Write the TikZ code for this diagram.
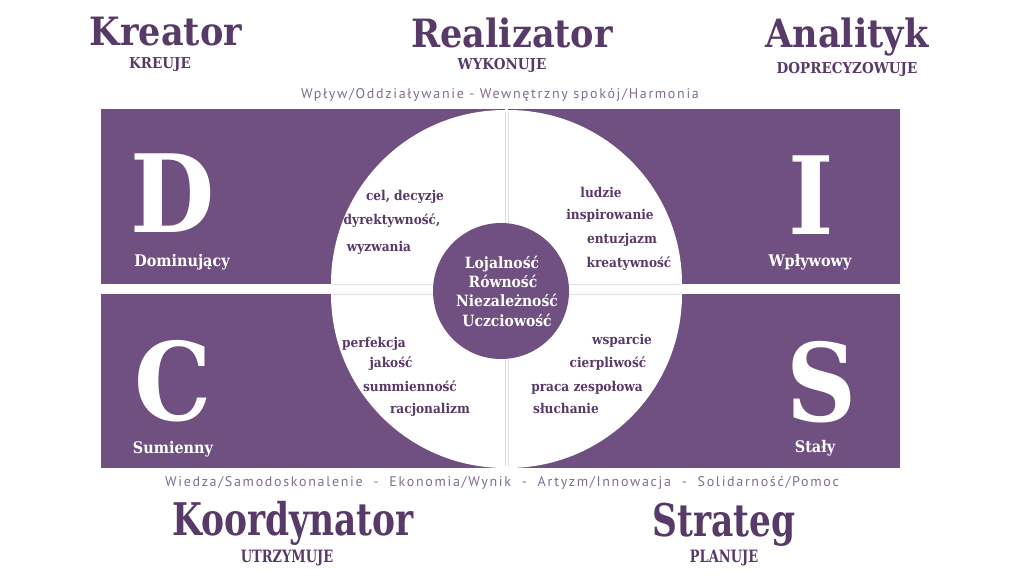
\documentclass[tikz,border=0pt]{standalone}
\usepackage{fontspec}
\setmainfont{DejaVu Serif Condensed}
\newfontfamily\condser{DejaVu Serif Condensed}[FakeStretch=0.85]
\newfontfamily\lite{PT Sans}[LetterSpace=12]
\definecolor{pur}{RGB}{112,80,128}
\definecolor{ttl}{RGB}{88,58,104}
\definecolor{lgt}{RGB}{128,110,140}
\begin{document}
\begin{tikzpicture}[x=1pt,y=-1pt,
  title/.style={font=\bfseries\fontsize{39}{39}\selectfont, text=ttl, inner sep=0, anchor=base},
  ctitle/.style={font=\condser\bfseries\fontsize{45}{45}\selectfont, text=ttl, inner sep=0, anchor=base},
  sub/.style={font=\bfseries\fontsize{15}{15}\selectfont, text=ttl, inner sep=0, anchor=base},
  csub/.style={font=\condser\bfseries\fontsize{17}{17}\selectfont, text=ttl, inner sep=0, anchor=base},
  big/.style={font=\bfseries\fontsize{108}{108}\selectfont, text=white, inner sep=0, anchor=base, text depth=0pt},
  lab/.style={font=\bfseries\fontsize{16}{16}\selectfont, text=white, inner sep=0, anchor=base},
  word/.style={font=\bfseries\fontsize{13.5}{13.5}\selectfont, text=ttl, inner sep=0, anchor=base},
  core/.style={font=\bfseries\fontsize{15.5}{15.5}\selectfont, text=white, inner sep=0, anchor=base},
  band/.style={font=\lite\fontsize{14}{14}\selectfont, text=lgt, inner sep=0, anchor=base},
  sep/.style={draw=black!12, line width=0.6pt}]
\useasboundingbox (0,0) rectangle (1024,576);
% quadrants
\fill[pur] (101,109) rectangle (505,284);
\fill[pur] (508,109) rectangle (900,284);
\fill[pur] (101,294) rectangle (505,468);
\fill[pur] (508,294) rectangle (900,468);
\begin{scope}
  \clip (101,109) rectangle (505,284);
  \fill[white] (505,284) circle[radius=174pt];
\end{scope}
\begin{scope}
  \clip (508,109) rectangle (900,284);
  \fill[white] (508,284) circle[radius=174pt];
\end{scope}
\begin{scope}
  \clip (101,294) rectangle (505,468);
  \fill[white] (505,294) circle[radius=174pt];
\end{scope}
\begin{scope}
  \clip (508,294) rectangle (900,468);
  \fill[white] (508,294) circle[radius=174pt];
\end{scope}
\draw[sep] (505,112) -- (505,466);
\draw[sep] (508,112) -- (508,466);
\draw[sep] (333,284) -- (680,284);
\draw[sep] (333,294) -- (680,294);
\node[circle, fill=pur, minimum size=136pt, inner sep=0] (corecircle) at (501,291) {};
% titles
\node[title] (kreator) at (166,45) {Kreator};
\node[sub] (kreuje) at (160,68) {KREUJE};
\node[title] (realizator) at (512,47) {Realizator};
\node[sub] (wykonuje) at (502,69) {WYKONUJE};
\node[title] (analityk) at (847,47) {Analityk};
\node[sub] (doprec) at (847,73) {DOPRECYZOWUJE};
\node[band] (topband) at (500,98) {Wpływ/Oddziaływanie - Wewnętrzny spokój/Harmonia};
\node[band] (botband) at (502,486) {Wiedza/Samodoskonalenie~~-~~Ekonomia/Wynik~~-~~Artyzm/Innowacja~~-~~Solidarność/Pomoc};
\node[ctitle] (koord) at (293,535) {Koordynator};
\node[csub] (utrz) at (287,562) {UTRZYMUJE};
\node[ctitle] (strateg) at (724,536) {Strateg};
\node[csub] (plan) at (724,562) {PLANUJE};
% letters
\node[big] (D) at (173,232) {D};
\node[lab] (dom) at (182,266) {Dominujący};
\node[big] (I) at (811,234) {I};
\node[lab] (wpl) at (810,266) {Wpływowy};
\node[big] (C) at (173,420) {C};
\node[lab] (sum) at (173,453) {Sumienny};
\node[big] (S) at (822,421) {S};
\node[lab] (sta) at (815,452) {Stały};
% words
\node[word] (w1) at (405,200) {cel, decyzje};
\node[word] (w2) at (392,224) {dyrektywność,};
\node[word] (w3) at (379,251) {wyzwania};
\node[word] (w4) at (601,197) {ludzie};
\node[word] (w5) at (610,219) {inspirowanie};
\node[word] (w6) at (622,243) {entuzjazm};
\node[word] (w7) at (629,267) {kreatywność};
\node[word] (w8) at (374,347) {perfekcja};
\node[word] (w9) at (391,367) {jakość};
\node[word] (w10) at (410,391) {summienność};
\node[word] (w11) at (430,413) {racjonalizm};
\node[word] (w12) at (622,344) {wsparcie};
\node[word] (w13) at (608,367) {cierpliwość};
\node[word] (w14) at (587,391) {praca zespołowa};
\node[word] (w15) at (566,413) {słuchanie};
% core
\node[core] (c1) at (502,268) {Lojalność};
\node[core] (c2) at (503,287) {Równość};
\node[core] (c3) at (507,306) {Niezależność};
\node[core] (c4) at (507,326) {Uczciowość};
\end{tikzpicture}
\end{document}
